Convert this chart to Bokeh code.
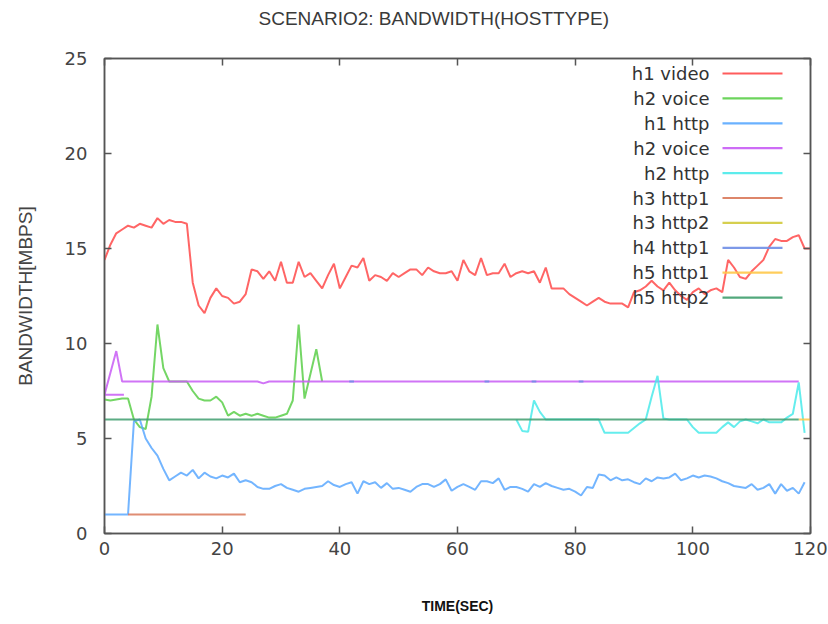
import math
from bokeh.plotting import figure
from bokeh.models import LinearAxis, Label, BoxAnnotation, FixedTicker, CustomJSTickFormatter
from bokeh.embed import file_html
from bokeh.resources import INLINE

NaN = float("nan")

# ---------------- data ----------------
title_text = "SCENARIO2: BANDWIDTH(HOSTTYPE)"
x_label = "TIME(SEC)"
y_label = "BANDWIDTH[MBPS]"
x_ticks = [0, 20, 40, 60, 80, 100, 120]
y_ticks = [0, 5, 10, 15, 20, 25]

h1_video_t = list(range(0, 121))
h1_video = [
    14.4, 15.2, 15.8, 16.0, 16.2, 16.1, 16.3, 16.2, 16.1, 16.6,
    16.3, 16.5, 16.4, 16.4, 16.3, 13.2, 12.0, 11.6, 12.4, 12.9,
    12.5, 12.4, 12.1, 12.2, 12.6, 13.9, 13.8, 13.4, 13.8, 13.3,
    14.3, 13.2, 13.2, 14.3, 13.5, 13.7, 13.3, 12.9, 13.6, 14.2,
    12.9, 13.5, 14.1, 14.0, 14.5, 13.3, 13.6, 13.5, 13.3, 13.7,
    13.5, 13.7, 13.9, 13.9, 13.6, 14.0, 13.8, 13.7, 13.7, 13.8,
    13.3, 14.4, 13.8, 13.6, 14.5, 13.6, 13.7, 13.7, 14.2, 13.5,
    13.7, 13.8, 13.7, 13.8, 13.2, 14.0, 12.9, 12.9, 12.9, 12.6,
    12.4, 12.2, 12.0, 12.2, 12.4, 12.2, 12.1, 12.1, 12.1, 11.9,
    12.7, 12.8, 13.0, 13.3, 13.0, 12.8, 13.2, 12.8, 12.5, 12.3,
    12.7, 12.9, 12.6, 12.8, 12.9, 12.7, 14.4, 14.0, 13.5, 13.4,
    13.8, 14.1, 14.4, 15.1, 15.5, 15.4, 15.4, 15.6, 15.7, 15.0,
    15.0,
]

h2_voice_t = list(range(0, 38))
h2_voice = [
    7.05, 7.0, 7.05, 7.1, 7.1, 6.0, 5.6, 5.5, 7.2, 11.0,
    8.7, 8.0, 8.0, 8.0, 8.0, 7.5, 7.1, 7.0, 7.0, 7.2,
    6.9, 6.2, 6.4, 6.2, 6.3, 6.2, 6.3, 6.2, 6.1, 6.1,
    6.2, 6.3, 7.0, 11.0, 7.1, 8.4, 9.7, 8.0,
]

h1_http_t = list(range(0, 120))
h1_http = [
    1.0, 1.0, 1.0, 1.0, 1.0, 5.9, 6.0, 5.0, 4.5, 4.1,
    3.4, 2.8, 3.0, 3.2, 3.05, 3.35, 2.9, 3.2, 3.0, 2.9,
    3.05, 2.95, 3.15, 2.7, 2.8, 2.7, 2.45, 2.35, 2.35, 2.5,
    2.6, 2.4, 2.3, 2.2, 2.35, 2.4, 2.45, 2.5, 2.75, 2.55,
    2.45, 2.6, 2.7, 2.1, 2.75, 2.6, 2.7, 2.4, 2.65, 2.35,
    2.4, 2.3, 2.2, 2.45, 2.6, 2.6, 2.45, 2.6, 2.85, 2.25,
    2.45, 2.6, 2.45, 2.3, 2.75, 2.75, 2.65, 2.9, 2.3, 2.45,
    2.45, 2.35, 2.2, 2.6, 2.45, 2.65, 2.5, 2.4, 2.3, 2.35,
    2.2, 2.0, 2.45, 2.4, 3.1, 3.05, 2.8, 2.95, 2.8, 2.85,
    2.7, 2.6, 2.9, 2.75, 2.95, 2.9, 2.95, 3.15, 2.8, 2.9,
    3.05, 2.95, 3.05, 3.0, 2.9, 2.75, 2.65, 2.5, 2.45, 2.4,
    2.6, 2.3, 2.4, 2.6, 2.1, 2.6, 2.25, 2.4, 2.1, 2.7,
]

h2_voice_b_t = [0, 3.3, NaN, 0, 2, 3, 26, 27, 28, 118]
h2_voice_b = [7.3, 7.3, NaN, 7.3, 9.6, 8.0, 8.0, 7.9, 8.0, 8.0]

h2_http_t = list(range(70, 120))
h2_http = [
    6.0, 5.4, 5.35, 7.0, 6.4, 6.0, 6.0, 6.0, 6.0, 6.0,
    6.0, 6.0, 6.0, 6.0, 6.0, 5.3, 5.3, 5.3, 5.3, 5.3,
    5.55, 5.8, 6.0, 7.2, 8.3, 6.05, 6.0, 6.0, 6.0, 6.0,
    5.6, 5.3, 5.3, 5.3, 5.3, 5.6, 5.85, 5.6, 5.9, 6.0,
    5.9, 5.8, 6.0, 5.85, 5.85, 5.85, 6.1, 6.3, 7.95, 5.3,
]

h3_http1_t = [4, 24]
h3_http1 = [1.0, 1.0]

h3_http2_t = []
h3_http2 = []

h4_http1_t = [41.6, 42.4, NaN, 64.6, 65.4, NaN, 72.6, 73.4, NaN, 80.6, 81.4]
h4_http1 = [8.0, 8.0, NaN, 8.0, 8.0, NaN, 8.0, 8.0, NaN, 8.0, 8.0]

h5_http1_t = [118, 120]
h5_http1 = [6.0, 6.0]

h5_http2_t = [0, 118]
h5_http2 = [6.0, 6.0]

series_names = ["h1 video", "h2 voice", "h1 http", "h2 voice", "h2 http",
                "h3 http1", "h3 http2", "h4 http1", "h5 http1", "h5 http2"]
series_colors = ["#ff4a4a", "#5ccf4a", "#5aa8ff", "#c85cf5", "#4aeaea",
                 "#d9795a", "#d2ca3c", "#6f8ee6", "#ffc84a", "#3f9e6e"]
series_t = [h1_video_t, h2_voice_t, h1_http_t, h2_voice_b_t, h2_http_t,
            h3_http1_t, h3_http2_t, h4_http1_t, h5_http1_t, h5_http2_t]
series_v = [h1_video, h2_voice, h1_http, h2_voice_b, h2_http,
            h3_http1, h3_http2, h4_http1, h5_http1, h5_http2]

# ---------------- figure ----------------
FONT = "Liberation Sans"
LEG_FONT = "DejaVu Sans"
AXIS_COLOR = "#555555"
TEXT_COLOR = "#444444"

p = figure(width=828, height=624, x_range=(0, 120), y_range=(0, 25),
           output_backend="svg", toolbar_location=None,
           min_border_left=104, min_border_right=18,
           min_border_top=58, min_border_bottom=91,
           background_fill_color="white", border_fill_color="white")

p.grid.visible = False
p.outline_line_color = AXIS_COLOR
p.outline_line_width = 1.5

p.title.text = title_text
p.title.align = "left"
p.title.offset = 154
p.title.text_font = FONT
p.title.text_font_size = "19px"
p.title.text_font_style = "normal"
p.title.text_color = "#3a3a3a"
p.title.standoff = 8

for ax in (p.xaxis[0], p.yaxis[0]):
    ax.major_tick_in = 7
    ax.major_tick_out = 0
    ax.minor_tick_line_color = None
    ax.axis_line_color = AXIS_COLOR
    ax.axis_line_width = 1.5
    ax.major_tick_line_color = AXIS_COLOR
    ax.major_tick_line_width = 1.5
    ax.major_label_text_font = LEG_FONT
    ax.major_label_text_font_size = "18px"
    ax.major_label_text_color = TEXT_COLOR
    ax.axis_label_text_font = FONT

p.xaxis[0].ticker = FixedTicker(ticks=x_ticks)
p.yaxis[0].ticker = FixedTicker(ticks=y_ticks)
p.xaxis[0].major_label_standoff = 8
p.yaxis[0].major_label_standoff = 17

p.xaxis[0].axis_label = x_label
p.xaxis[0].axis_label_text_font_size = "14px"
p.xaxis[0].axis_label_text_font_style = "bold"
p.xaxis[0].axis_label_text_color = "#111111"
p.xaxis[0].axis_label_standoff = 40

p.yaxis[0].axis_label = y_label
p.yaxis[0].axis_label_text_font_size = "19px"
p.yaxis[0].axis_label_text_font_style = "normal"
p.yaxis[0].axis_label_text_color = TEXT_COLOR
p.yaxis[0].axis_label_standoff = 26

# mirrored ticks on top and right (no labels)
blank = CustomJSTickFormatter(code="return '';")
top_ax = LinearAxis(ticker=FixedTicker(ticks=x_ticks), formatter=blank,
                    major_tick_in=7, major_tick_out=0, minor_tick_line_color=None,
                    axis_line_color=AXIS_COLOR, axis_line_width=1.5,
                    major_tick_line_color=AXIS_COLOR, major_tick_line_width=1.5,
                    major_label_standoff=0)
right_ax = LinearAxis(ticker=FixedTicker(ticks=y_ticks), formatter=blank,
                      major_tick_in=7, major_tick_out=0, minor_tick_line_color=None,
                      axis_line_color=AXIS_COLOR, axis_line_width=1.5,
                      major_tick_line_color=AXIS_COLOR, major_tick_line_width=1.5,
                      major_label_standoff=0)
p.add_layout(top_ax, "above")
p.add_layout(right_ax, "right")

# invisible spacer above the top axis, lifting the title clear of the frame
spacer_ax = LinearAxis(ticker=FixedTicker(ticks=[60]), formatter=blank,
                       major_tick_in=0, major_tick_out=26, minor_tick_line_color=None,
                       axis_line_color=None, major_tick_line_color="white",
                       major_tick_line_alpha=0.0, major_label_standoff=0)
p.add_layout(spacer_ax, "above")

# data lines
for t, v, c in zip(series_t, series_v, series_colors):
    if len(t) == 0:
        continue
    p.line(t, v, line_color=c, line_width=2, line_alpha=0.85)

# legend: text right-aligned, line sample to the right (frame-relative screen units)
row_top = 460.0
row_step = 24.9
for i, (name, c) in enumerate(zip(series_names, series_colors)):
    yy = row_top - i * row_step
    p.add_layout(Label(x=605, y=yy, x_units="screen", y_units="screen", text=name,
                       text_align="right", text_baseline="middle",
                       text_font=LEG_FONT, text_font_size="18px", text_color="#333333"))
    p.add_layout(BoxAnnotation(left=618, right=678, bottom=yy - 1.1, top=yy + 1.1,
                               left_units="screen", right_units="screen",
                               bottom_units="screen", top_units="screen",
                               fill_color=c, fill_alpha=0.9, line_color=None))

open("out.html", "w").write(file_html(p, INLINE))
